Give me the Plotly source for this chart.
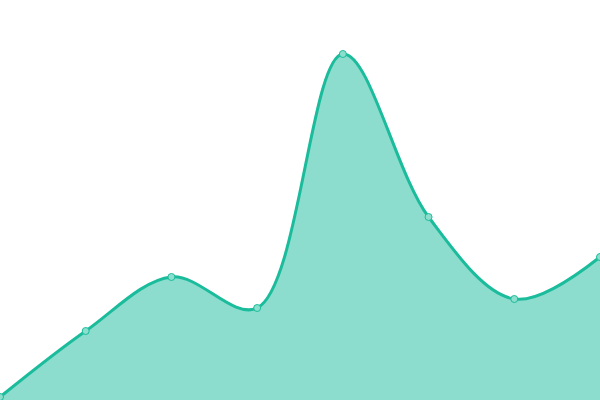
import plotly.graph_objects as go

x_vals = [0, 1, 2, 3, 4, 5, 6, 7]
y_vals = [3, 69, 123, 92, 346, 183, 101, 143]

fig = go.Figure()
fig.add_trace(go.Scatter(
    x=x_vals, y=y_vals, mode="lines+markers",
    line=dict(color="#1abc9c", width=3, shape="spline", smoothing=1),
    fill="tozeroy", fillcolor="rgba(26,188,156,0.5)",
    marker=dict(size=7, color="#8cdfcd", line=dict(color="#1abc9c", width=1)),
    hoverinfo="skip", showlegend=False, cliponaxis=False,
))
fig.update_layout(
    width=600, height=400,
    margin=dict(l=0, r=0, t=0, b=0),
    paper_bgcolor="white", plot_bgcolor="white",
    xaxis=dict(visible=False, range=[0, 7]),
    yaxis=dict(visible=False, range=[0, 400]),
)
fig.write_html("out.html", config={"displayModeBar": False},
               post_script="document.body.style.margin='0';document.body.style.overflow='hidden';")
